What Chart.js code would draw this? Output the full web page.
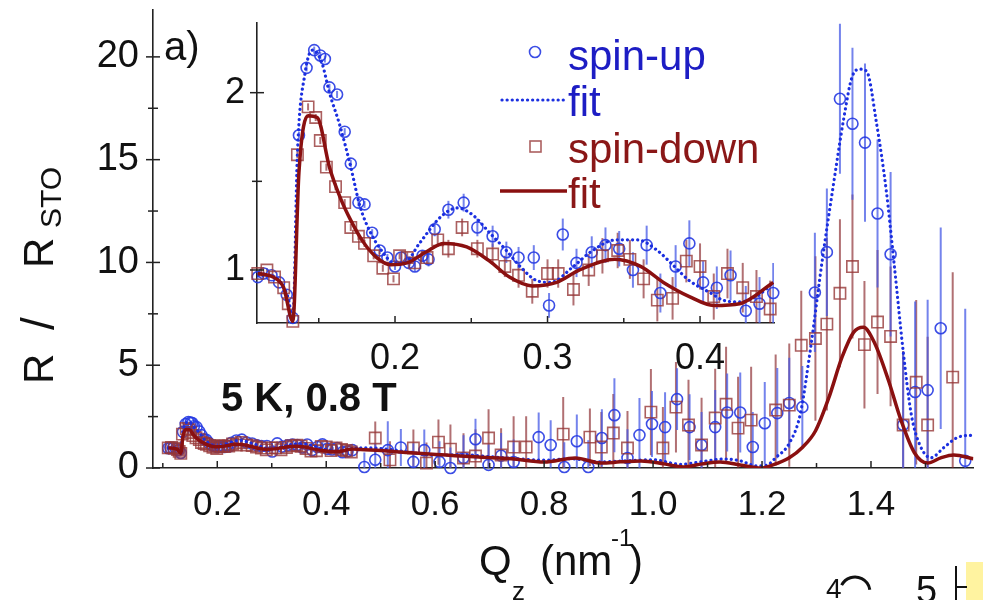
<!DOCTYPE html>
<html>
<head>
<meta charset="utf-8">
<script src="https://cdn.jsdelivr.net/npm/chart.js@4.4.1/dist/chart.umd.min.js"></script>
<style>
  body { margin: 0; background: #fff; }
  #wrap { position: relative; width: 983px; height: 600px; overflow: hidden; }
  #wrap canvas { position: absolute; left: 0; top: 0; }
</style>
</head>
<body>
<div id="wrap">
  <canvas id="mainChart" width="983" height="600"></canvas>
  <canvas id="insetChart" width="983" height="600"></canvas>
</div>
<script>
// Reflectivity R/R_STO vs Qz, spin-up and spin-down, with fits.
// Low-Q part (shown in the inset as well as the main panel)
const lowQUp = [0.110, 0.114, 0.119, 0.124, 0.129, 0.133, 0.137, 0.142, 0.147, 0.151, 0.154, 0.157, 0.162, 0.167, 0.171, 0.176, 0.180, 0.185, 0.190, 0.195, 0.200, 0.204, 0.209, 0.213, 0.218, 0.222, 0.226, 0.235, 0.245, 0.254, 0.264, 0.273, 0.281, 0.291, 0.301, 0.310, 0.319, 0.329, 0.338, 0.347, 0.356, 0.365, 0.374, 0.384, 0.393, 0.402, 0.411, 0.420, 0.430, 0.439, 0.448];
const lowRUp = [0.96, 0.98, 0.97, 0.93, 0.86, 0.73, 1.76, 2.14, 2.24, 2.21, 2.19, 2.03, 1.99, 1.78, 1.60, 1.38, 1.37, 1.21, 1.11, 1.07, 1.02, 1.07, 1.04, 1.02, 1.08, 1.06, 1.23, 1.34, 1.38, 1.24, 1.19, 1.10, 1.07, 1.07, 0.80, 1.20, 1.04, 1.10, 1.14, 1.12, 1.00, 1.14, 0.87, 1.02, 1.15, 0.93, 0.90, 0.97, 0.77, 0.81, 0.87];
const lowErrUp = [0.01, 0.01, 0.01, 0.01, 0.01, 0.02, 0.02, 0.02, 0.02, 0.02, 0.02, 0.02, 0.02, 0.02, 0.02, 0.02, 0.02, 0.02, 0.02, 0.02, 0.02, 0.03, 0.03, 0.03, 0.03, 0.04, 0.04, 0.05, 0.05, 0.05, 0.06, 0.06, 0.06, 0.07, 0.07, 0.09, 0.08, 0.09, 0.10, 0.10, 0.10, 0.11, 0.11, 0.12, 0.13, 0.12, 0.12, 0.14, 0.14, 0.15, 0.17];

const lowQDown = [0.110, 0.116, 0.121, 0.127, 0.130, 0.133, 0.136, 0.143, 0.148, 0.151, 0.155, 0.161, 0.167, 0.171, 0.176, 0.180, 0.186, 0.192, 0.199, 0.203, 0.208, 0.213, 0.221, 0.228, 0.235, 0.244, 0.254, 0.264, 0.272, 0.281, 0.290, 0.300, 0.307, 0.317, 0.327, 0.336, 0.346, 0.354, 0.363, 0.372, 0.382, 0.391, 0.400, 0.409, 0.418, 0.428, 0.437, 0.446];
const lowRDown = [0.98, 1.00, 0.96, 0.90, 0.81, 0.71, 1.65, 1.92, 1.86, 1.73, 1.58, 1.47, 1.38, 1.24, 1.19, 1.15, 1.08, 1.01, 0.95, 1.08, 1.07, 1.04, 1.07, 1.17, 1.12, 1.24, 1.12, 1.09, 1.02, 0.97, 0.88, 0.98, 0.98, 0.89, 1.00, 1.08, 1.11, 1.06, 0.95, 0.83, 0.84, 1.05, 1.02, 0.85, 0.98, 0.90, 0.85, 0.78];
const lowErrDown = [0.01, 0.01, 0.01, 0.01, 0.01, 0.02, 0.02, 0.02, 0.02, 0.02, 0.02, 0.02, 0.02, 0.02, 0.02, 0.02, 0.02, 0.02, 0.02, 0.02, 0.03, 0.03, 0.04, 0.04, 0.05, 0.05, 0.05, 0.06, 0.06, 0.07, 0.07, 0.08, 0.08, 0.09, 0.09, 0.10, 0.10, 0.11, 0.11, 0.12, 0.12, 0.12, 0.13, 0.13, 0.14, 0.14, 0.15, 0.16];

// High-Q part (main panel only)
const highQUp = [0.470, 0.490, 0.513, 0.537, 0.560, 0.580, 0.608, 0.628, 0.652, 0.674, 0.698, 0.721, 0.744, 0.790, 0.812, 0.837, 0.860, 0.881, 0.906, 0.929, 0.953, 0.975, 0.998, 1.022, 1.044, 1.067, 1.089, 1.114, 1.136, 1.160, 1.183, 1.205, 1.228, 1.250, 1.274, 1.297, 1.319, 1.343, 1.366, 1.389, 1.412, 1.436, 1.459, 1.481, 1.504, 1.528, 1.573];
const highRUp = [0.05, 0.40, 0.87, 1.00, 0.30, 0.87, 0.30, 0.00, 0.49, 1.40, 0.15, 0.60, 0.29, 1.50, 1.12, 0.05, 1.30, 0.05, 1.46, 2.57, 0.49, 1.60, 2.14, 1.99, 3.35, 1.99, 1.12, 1.99, 2.70, 2.70, 1.02, 2.18, 2.67, 3.16, 2.96, 8.54, 10.50, 17.96, 16.75, 15.83, 12.38, 10.40, 2.09, 3.70, 3.79, 6.80, 0.35];
const highErrUp = [0.7, 0.8, 1.4, 0.9, 0.9, 1.0, 1.0, 1.0, 1.1, 1.0, 1.0, 1.1, 1.1, 1.2, 1.2, 1.2, 1.3, 1.3, 1.4, 1.8, 1.4, 1.8, 1.6, 1.7, 1.5, 1.6, 1.6, 1.8, 1.9, 1.95, 1.7, 2.0, 2.2, 2.2, 2.0, 2.9, 3.1, 3.65, 3.7, 3.85, 3.6, 4.0, 3.5, 4.4, 4.4, 4.9, 7.4];

const highQDown = [0.490, 0.517, 0.560, 0.584, 0.606, 0.628, 0.652, 0.674, 0.698, 0.721, 0.744, 0.767, 0.835, 0.884, 0.905, 0.927, 0.953, 0.996, 1.018, 1.042, 1.065, 1.089, 1.114, 1.134, 1.156, 1.180, 1.225, 1.250, 1.272, 1.298, 1.319, 1.343, 1.366, 1.388, 1.412, 1.436, 1.459, 1.483, 1.504, 1.550];
const highRDown = [1.46, 0.40, 0.97, 0.24, 1.26, 0.92, 0.49, 0.58, 1.46, 0.63, 1.02, 1.02, 1.65, 1.50, 1.02, 1.70, 0.97, 2.72, 0.97, 2.96, 2.09, 1.12, 2.43, 3.10, 1.94, 2.33, 2.82, 3.06, 5.97, 6.30, 7.00, 8.50, 9.80, 6.00, 7.10, 6.40, 2.09, 4.17, 2.09, 4.42];
const highErrDown = [0.8, 0.9, 0.9, 1.0, 1.1, 1.2, 1.2, 1.3, 1.4, 1.3, 1.5, 1.5, 1.8, 1.4, 1.7, 1.9, 1.8, 2.1, 2.0, 2.2, 2.2, 2.3, 2.4, 2.8, 2.5, 2.6, 2.7, 3.0, 2.65, 4.0, 4.2, 3.6, 3.5, 3.1, 3.5, 3.4, 3.6, 4.0, 4.3, 5.1];

// Model fits
const fitQUp = [0.110, 0.118, 0.125, 0.130, 0.133, 0.136, 0.141, 0.146, 0.152, 0.157, 0.164, 0.171, 0.177, 0.184, 0.192, 0.199, 0.206, 0.216, 0.230, 0.241, 0.251, 0.262, 0.273, 0.282, 0.293, 0.302, 0.317, 0.328, 0.345, 0.359, 0.372, 0.382, 0.393, 0.407, 0.415, 0.426, 0.437, 0.447, 0.47, 0.50, 0.55, 0.60, 0.65, 0.70, 0.75, 0.80, 0.85, 0.90, 0.95, 1.00, 1.05, 1.10, 1.13, 1.16, 1.19, 1.21, 1.225, 1.25, 1.27, 1.29, 1.31, 1.33, 1.35, 1.365, 1.38, 1.392, 1.41, 1.428, 1.443, 1.459, 1.474, 1.49, 1.51, 1.534, 1.56, 1.588];
const fitRUp = [0.97, 0.97, 0.93, 0.84, 0.72, 1.66, 2.11, 2.24, 2.17, 2.00, 1.81, 1.58, 1.36, 1.21, 1.10, 1.04, 1.04, 1.15, 1.30, 1.35, 1.31, 1.21, 1.11, 1.02, 0.94, 0.93, 1.02, 1.10, 1.17, 1.17, 1.11, 1.03, 0.94, 0.87, 0.83, 0.82, 0.85, 0.92, 0.98, 0.95, 0.78, 0.62, 0.65, 0.55, 0.45, 0.38, 0.45, 0.30, 0.35, 0.40, 0.18, 0.35, 0.44, 0.35, 0.10, 0.15, 0.5, 1.2, 2.6, 6.0, 10.0, 13.6, 17.0, 19.0, 19.4, 19.3, 16.8, 13.5, 9.8, 5.7, 2.6, 1.1, 0.5, 1.0, 1.5, 1.6];
const fitQDown = [0.110, 0.120, 0.127, 0.133, 0.137, 0.143, 0.149, 0.157, 0.164, 0.171, 0.179, 0.188, 0.197, 0.208, 0.220, 0.232, 0.247, 0.262, 0.275, 0.290, 0.306, 0.321, 0.344, 0.361, 0.376, 0.393, 0.409, 0.426, 0.448, 0.463, 0.50, 0.55, 0.62, 0.68, 0.74, 0.80, 0.857, 0.905, 0.94, 0.978, 1.02, 1.056, 1.09, 1.123, 1.16, 1.198, 1.22, 1.25, 1.274, 1.298, 1.323, 1.347, 1.368, 1.386, 1.407, 1.432, 1.455, 1.48, 1.504, 1.528, 1.552, 1.588];
const fitRDown = [0.98, 0.96, 0.90, 0.71, 1.55, 1.87, 1.86, 1.58, 1.41, 1.28, 1.16, 1.07, 1.03, 1.04, 1.10, 1.15, 1.13, 1.05, 0.96, 0.91, 0.93, 1.00, 1.06, 1.02, 0.93, 0.85, 0.80, 0.81, 0.93, 0.90, 0.85, 0.75, 0.63, 0.53, 0.45, 0.29, 0.49, 0.24, 0.30, 0.34, 0.20, 0.05, 0.20, 0.29, 0.15, 0.0, 0.15, 0.5, 1.0, 1.8, 3.45, 5.4, 6.6, 6.85, 6.06, 4.27, 2.33, 0.73, 0.24, 0.49, 0.63, 0.45];

// Axis ticks
const mainXTicks = [0.2, 0.4, 0.6, 0.8, 1.0, 1.2, 1.4];
const mainXMinor = [0.1, 0.3, 0.5, 0.7, 0.9, 1.1, 1.3, 1.5];
const mainYTicks = [0, 5, 10, 15, 20];
const mainYMinor = [2.5, 7.5, 12.5, 17.5];
const insetXTicks = [0.2, 0.3, 0.4];
const insetXMinor = [0.15, 0.25, 0.35];
const insetYTicks = [1, 2];
const insetYMinor = [1.5];

const FONT = '"Liberation Sans", Arial, Helvetica, sans-serif';
const BLUE = 'rgba(38, 58, 226, 0.9)';
const BLUE_ERR = 'rgba(70, 90, 230, 0.75)';
const RED = 'rgba(150, 55, 55, 0.8)';
const RED_ERR = 'rgba(135, 35, 40, 0.65)';
const BLUE_FIT = '#1b2fe0';
const RED_FIT = '#8a1010';
const TEXT_BLUE = '#1d1dc4';
const TEXT_RED = '#8a1717';

function zipPoints(xs, ys) {
  return xs.map((x, i) => ({ x: x, y: ys[i] }));
}

const errorBarPlugin = {
  id: 'errorBars',
  beforeDatasetsDraw(chart) {
    const { ctx, chartArea, scales } = chart;
    ctx.save();
    ctx.beginPath();
    ctx.rect(chartArea.left, chartArea.top, chartArea.right - chartArea.left, chartArea.bottom - chartArea.top);
    ctx.clip();
    chart.data.datasets.forEach((ds) => {
      if (!ds.errors) return;
      ctx.strokeStyle = ds.errorColor;
      ctx.lineWidth = 2;
      ds.data.forEach((pt, i) => {
        const e = ds.errors[i];
        const px = scales.x.getPixelForValue(pt.x);
        ctx.beginPath();
        ctx.moveTo(px, scales.y.getPixelForValue(pt.y - e));
        ctx.lineTo(px, scales.y.getPixelForValue(pt.y + e));
        ctx.stroke();
      });
    });
    ctx.restore();
  },
};

// inward x ticks, y ticks crossing the axis line
const axisTicksPlugin = {
  id: 'axisTicks',
  afterDatasetsDraw(chart, args, opts) {
    const { ctx, chartArea, scales } = chart;
    ctx.save();
    ctx.strokeStyle = '#222';
    ctx.lineWidth = 1.5;
    const xTick = (v, len) => {
      const px = scales.x.getPixelForValue(v);
      ctx.beginPath();
      ctx.moveTo(px, chartArea.bottom);
      ctx.lineTo(px, chartArea.bottom - len);
      ctx.stroke();
    };
    const yTick = (v, len) => {
      const py = scales.y.getPixelForValue(v);
      ctx.beginPath();
      ctx.moveTo(chartArea.left - len, py);
      ctx.lineTo(chartArea.left + len, py);
      ctx.stroke();
    };
    opts.xMajor.forEach((v) => xTick(v, 7));
    opts.xMinor.forEach((v) => xTick(v, 5));
    opts.yMajor.forEach((v) => yTick(v, 7));
    opts.yMinor.forEach((v) => yTick(v, 5));
    ctx.restore();
  },
};

const figureTextPlugin = {
  id: 'figureText',
  afterDraw(chart) {
    const ctx = chart.ctx;
    ctx.save();
    ctx.fillStyle = '#111';
    ctx.textBaseline = 'alphabetic';
    ctx.textAlign = 'left';

    ctx.font = '40px ' + FONT;
    ctx.fillText('a)', 164, 60);

    ctx.font = 'bold 40px ' + FONT;
    ctx.fillText('5 K, 0.8 T', 221, 411);

    // y-axis title, letters spread out along the axis
    ctx.save();
    ctx.translate(53, 0);
    ctx.rotate(-Math.PI / 2);
    ctx.font = '42px ' + FONT;
    ctx.fillText('R', -384, 0);
    ctx.font = '46px ' + FONT;
    ctx.fillText('/', -330, 1);
    ctx.font = '42px ' + FONT;
    ctx.fillText('R', -268, 0);
    ctx.font = '30px ' + FONT;
    ctx.fillText('STO', -228, 8);
    ctx.restore();

    // x-axis title
    ctx.font = '42px ' + FONT;
    ctx.fillText('Q', 479, 575);
    ctx.font = '26px ' + FONT;
    ctx.fillText('z', 512, 600);
    ctx.font = '42px ' + FONT;
    ctx.fillText('(nm', 540, 575);
    ctx.font = '24px ' + FONT;
    ctx.fillText('-1', 611, 546);
    ctx.font = '42px ' + FONT;
    ctx.fillText(')', 629, 575);

    // fragments of the next panel at the bottom edge
    ctx.fillStyle = '#fff3a0';
    ctx.fillRect(966, 562, 17, 38);
    ctx.fillStyle = '#111';
    ctx.font = '38px ' + FONT;
    ctx.fillText('5', 916, 603);
    ctx.fillRect(955, 566, 2, 34);
    ctx.fillRect(955, 586, 12, 2);
    ctx.font = '28px ' + FONT;
    ctx.fillText('4', 826, 598);
    ctx.lineWidth = 3;
    ctx.strokeStyle = '#111';
    ctx.beginPath();
    ctx.arc(855, 592, 15, Math.PI * 1.15, Math.PI * 1.95);
    ctx.stroke();
    ctx.restore();
  },
};

const legendPlugin = {
  id: 'insetLegend',
  afterDraw(chart) {
    const ctx = chart.ctx;
    ctx.save();
    ctx.font = '42px ' + FONT;
    ctx.textBaseline = 'middle';
    ctx.textAlign = 'left';

    ctx.strokeStyle = BLUE;
    ctx.lineWidth = 1.6;
    ctx.beginPath();
    ctx.arc(535, 52, 5.5, 0, Math.PI * 2);
    ctx.stroke();
    ctx.fillStyle = TEXT_BLUE;
    ctx.fillText('spin-up', 568, 58);

    ctx.strokeStyle = BLUE_FIT;
    ctx.lineWidth = 3.2;
    ctx.lineCap = 'round';
    ctx.setLineDash([0.1, 5]);
    ctx.beginPath();
    ctx.moveTo(502, 100);
    ctx.lineTo(566, 100);
    ctx.stroke();
    ctx.setLineDash([]);
    ctx.fillText('fit', 568, 104);

    ctx.strokeStyle = RED;
    ctx.lineWidth = 1.6;
    ctx.strokeRect(530, 141, 11, 11);
    ctx.fillStyle = TEXT_RED;
    ctx.fillText('spin-down', 568, 151);

    ctx.strokeStyle = RED_FIT;
    ctx.lineWidth = 3.5;
    ctx.lineCap = 'butt';
    ctx.beginPath();
    ctx.moveTo(500, 191);
    ctx.lineTo(567, 191);
    ctx.stroke();
    ctx.fillText('fit', 568, 196);
    ctx.restore();
  },
};

function buildDatasets(qUp, rUp, eUp, qDown, rDown, eDown, fqUp, frUp, fqDown, frDown) {
  return [
    {
      label: 'fit (spin-down)',
      data: zipPoints(fqDown, frDown),
      showLine: true,
      pointRadius: 0,
      borderColor: RED_FIT,
      borderWidth: 3.5,
      cubicInterpolationMode: 'monotone',
    },
    {
      label: 'fit (spin-up)',
      data: zipPoints(fqUp, frUp),
      showLine: true,
      pointRadius: 0,
      borderColor: BLUE_FIT,
      borderWidth: 3.2,
      borderDash: [0.1, 5],
      borderCapStyle: 'round',
      cubicInterpolationMode: 'monotone',
    },
    {
      label: 'spin-down',
      data: zipPoints(qDown, rDown),
      errors: eDown,
      errorColor: RED_ERR,
      pointStyle: 'rect',
      pointRadius: 8,
      pointBorderWidth: 1.6,
      pointBorderColor: RED,
      pointBackgroundColor: 'rgba(0,0,0,0)',
      clip: false,
    },
    {
      label: 'spin-up',
      data: zipPoints(qUp, rUp),
      errors: eUp,
      errorColor: BLUE_ERR,
      pointStyle: 'circle',
      pointRadius: 5.5,
      pointBorderWidth: 1.6,
      pointBorderColor: BLUE,
      pointBackgroundColor: 'rgba(0,0,0,0)',
      clip: false,
    },
  ];
}

// fixed axis size; drop the label overhang padding so the plot area stays put
function fixSize(prop, value) {
  return (scale) => {
    scale[prop] = value;
    scale.paddingTop = 0;
    scale.paddingBottom = 0;
    scale.paddingLeft = 0;
    scale.paddingRight = 0;
  };
}

function axisOptions(min, max, tickValues, size, padding, afterFit, fmt) {
  return {
    type: 'linear',
    min: min,
    max: max,
    grid: { display: false, drawTicks: false },
    border: { display: true, color: '#222', width: 1.6 },
    afterBuildTicks: (scale) => { scale.ticks = tickValues.map((v) => ({ value: v })); },
    afterFit: afterFit,
    ticks: {
      color: '#111',
      padding: padding,
      font: { family: FONT, size: size },
      autoSkip: false,
      maxRotation: 0,
      callback: fmt,
    },
  };
}

const baseOptions = {
  responsive: false,
  animation: false,
  events: [],
  plugins: { legend: { display: false }, tooltip: { enabled: false } },
};

const insetFitUpCount = fitQUp.filter((q) => q <= 0.448).length;
const insetFitDownCount = fitQDown.filter((q) => q <= 0.448).length;

new Chart(document.getElementById('mainChart'), {
  type: 'scatter',
  data: {
    datasets: buildDatasets(
      lowQUp.concat(highQUp), lowRUp.concat(highRUp), lowErrUp.concat(highErrUp),
      lowQDown.concat(highQDown), lowRDown.concat(highRDown), lowErrDown.concat(highErrDown),
      fitQUp, fitRUp, fitQDown, fitRDown
    ),
  },
  options: {
    ...baseOptions,
    layout: { padding: { top: 8, right: 0, left: 0, bottom: 0 } },
    plugins: {
      ...baseOptions.plugins,
      axisTicks: { xMajor: mainXTicks, xMinor: mainXMinor, yMajor: mainYTicks, yMinor: mainYMinor },
    },
    scales: {
      x: axisOptions(0.082, 1.588, mainXTicks, 35, 16, fixSize('height', 132), (v) => Number(v).toFixed(1)),
      y: axisOptions(0, 22.3, mainYTicks, 38, 14, fixSize('width', 153), (v) => String(v)),
    },
  },
  plugins: [errorBarPlugin, axisTicksPlugin, figureTextPlugin],
});

new Chart(document.getElementById('insetChart'), {
  type: 'scatter',
  data: {
    datasets: buildDatasets(
      lowQUp, lowRUp, lowErrUp, lowQDown, lowRDown, lowErrDown,
      fitQUp.slice(0, insetFitUpCount), fitRUp.slice(0, insetFitUpCount),
      fitQDown.slice(0, insetFitDownCount), fitRDown.slice(0, insetFitDownCount)
    ),
  },
  options: {
    ...baseOptions,
    layout: { padding: { top: 23, right: 209, left: 0, bottom: 0 } },
    plugins: {
      ...baseOptions.plugins,
      axisTicks: { xMajor: insetXTicks, xMinor: insetXMinor, yMajor: insetYTicks, yMinor: insetYMinor },
    },
    scales: {
      x: axisOptions(0.1095, 0.4485, insetXTicks, 36, 14, fixSize('height', 277), (v) => Number(v).toFixed(1)),
      y: axisOptions(0.701, 2.393, insetYTicks, 36, 12, fixSize('width', 257), (v) => String(v)),
    },
  },
  plugins: [errorBarPlugin, axisTicksPlugin, legendPlugin],
});
</script>
</body>
</html>
